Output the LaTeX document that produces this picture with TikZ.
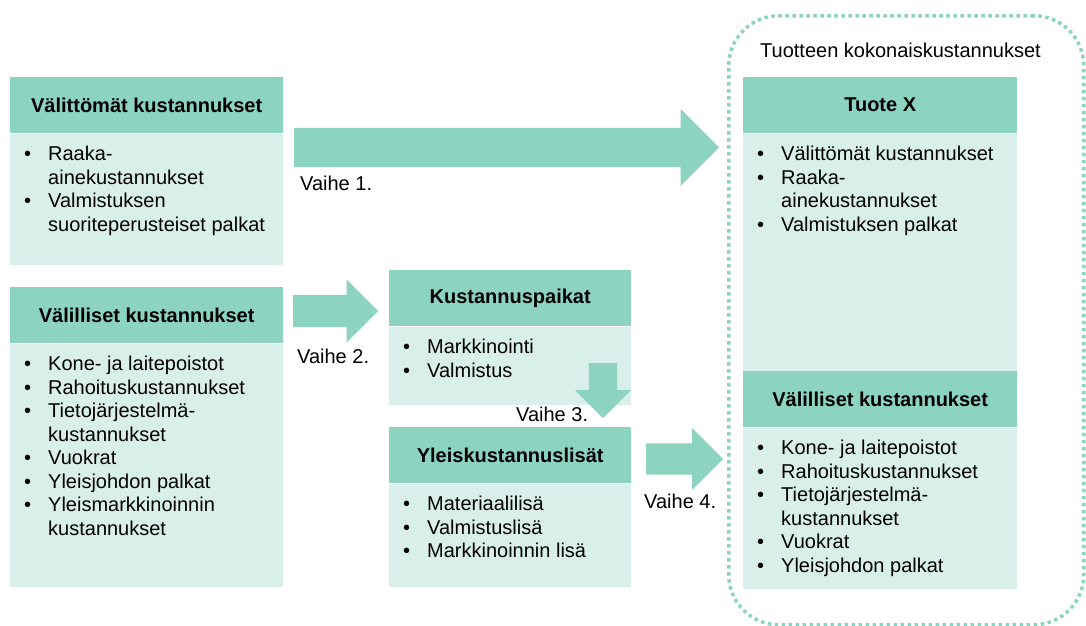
\documentclass[tikz,border=0pt]{standalone}
\usepackage{fontspec}
\setmainfont{Liberation Sans}
\usepackage{tikz}
\usetikzlibrary{shapes.arrows, positioning}

\definecolor{headgreen}{HTML}{8CD4C0}
\definecolor{bodygreen}{HTML}{D9F0EA}

\newcommand{\basefont}{\fontsize{20pt}{23.5pt}\selectfont}

% bullet lists in the light boxes
\newif\iffirstitem
\newcommand{\bitem}[1]{\par\hangindent=24pt\hangafter=1\noindent
    \iffirstitem\rule{0pt}{27pt}\global\firstitemfalse\fi
    \makebox[24pt][l]{\textbullet}#1}
\newcommand{\bodylist}[3]{\parbox[t][#2][t]{#1}{\global\firstitemtrue
    \raggedright\leftskip=14pt\baselineskip=23.5pt\hyphenpenalty=10000 #3}}

\tikzset {
    headbox/.style = {
        fill = headgreen,
        anchor = north west,
        inner sep = 0pt,
        minimum height = 56pt,
        font = {\basefont\bfseries}
    },
    bodybox/.style = {
        fill = bodygreen,
        inner sep = 0pt
    },
    phasearrow/.style n args = {3}{
        single arrow,
        fill = headgreen,
        anchor = tail,
        inner xsep = 0pt,
        minimum height = #1,
        inner ysep = #2,
        single arrow head extend = #3
    },
    phaselabel/.style = {
        anchor = base west,
        inner sep = 0pt
    },
    totalframe/.style = {
        draw = headgreen,
        line width = 3.5pt,
        dash pattern = on 3.5pt off 3.5pt,
        rounded corners = 50pt,
        anchor = north west,
        inner sep = 0pt
    }
}

\begin{document}
\begin{tikzpicture}[x=1pt, y=-1pt, font=\basefont, node distance=0pt]
        \useasboundingbox (0,0) rectangle (1086,625);

        % Left column : direct and indirect costs
        \node [headbox, minimum width=273pt] at (10,77)     (hdirect)   {Välittömät kustannukset};
        \node [bodybox, below=of hdirect]                   (bdirect)   {\bodylist{273pt}{131pt}{%
            \bitem{Raaka-\newline ainekustannukset}%
            \bitem{Valmistuksen\newline suoriteperusteiset palkat}}};
        \node [headbox, minimum width=273pt] at (10,287)    (hindirect) {Välilliset kustannukset};
        \node [bodybox, below=of hindirect]                 (bindirect) {\bodylist{273pt}{243pt}{%
            \bitem{Kone- ja laitepoistot}%
            \bitem{Rahoituskustannukset}%
            \bitem{Tietojärjestelmä-\newline kustannukset}%
            \bitem{Vuokrat}%
            \bitem{Yleisjohdon palkat}%
            \bitem{Yleismarkkinoinnin\newline kustannukset}}};

        % Middle column : cost centres and overhead rates
        \node [headbox, minimum width=242pt] at (389,270)   (hcentres)  {Kustannuspaikat};
        \node [bodybox, below=of hcentres]                  (bcentres)  {\bodylist{242pt}{78pt}{%
            \bitem{Markkinointi}%
            \bitem{Valmistus}}};
        \node [headbox, minimum width=242pt] at (389,427)   (hrates)    {Yleiskustannuslisät};
        \node [bodybox, below=of hrates]                    (brates)    {\bodylist{242pt}{103pt}{%
            \bitem{Materiaalilisä}%
            \bitem{Valmistuslisä}%
            \bitem{Markkinoinnin lisä}}};

        % Right column : total cost of the product
        \node [totalframe, minimum width=355pt, minimum height=609pt] at (727,14) (total) {};
        \node [phaselabel] at (760,57)                      (ttitle)    {Tuotteen kokonaiskustannukset};
        \node [headbox, minimum width=274pt] at (743,77)    (hproduct)  {Tuote X};
        \node [bodybox, below=of hproduct]                  (bproduct)  {\bodylist{274pt}{238pt}{%
            \bitem{Välittömät kustannukset}%
            \bitem{Raaka-\newline ainekustannukset}%
            \bitem{Valmistuksen palkat}}};
        \node [headbox, minimum width=274pt] at (743,371)   (hoverhead) {Välilliset kustannukset};
        \node [bodybox, below=of hoverhead]                 (boverhead) {\bodylist{274pt}{161pt}{%
            \bitem{Kone- ja laitepoistot}%
            \bitem{Rahoituskustannukset}%
            \bitem{Tietojärjestelmä-\newline kustannukset}%
            \bitem{Vuokrat}%
            \bitem{Yleisjohdon palkat}}};

        % Phases
        \node [phasearrow={425pt}{19.5pt}{19pt}] at (294,147.5)         (arrow1) {};
        \node [phasearrow={85pt}{16pt}{15.5pt}] at (293,311)            (arrow2) {};
        \node [phasearrow={55pt}{14pt}{14pt}, rotate=-90] at (603,363)  (arrow3) {};
        \node [phasearrow={77pt}{15.5pt}{15.5pt}] at (646,459)          (arrow4) {};

        \node [phaselabel] at (300,190)     (vaihe1)    {Vaihe 1.};
        \node [phaselabel] at (297,363)     (vaihe2)    {Vaihe 2.};
        \node [phaselabel] at (516,421)     (vaihe3)    {Vaihe 3.};
        \node [phaselabel] at (644,508)     (vaihe4)    {Vaihe 4.};
    \end{tikzpicture}
\end{document}
